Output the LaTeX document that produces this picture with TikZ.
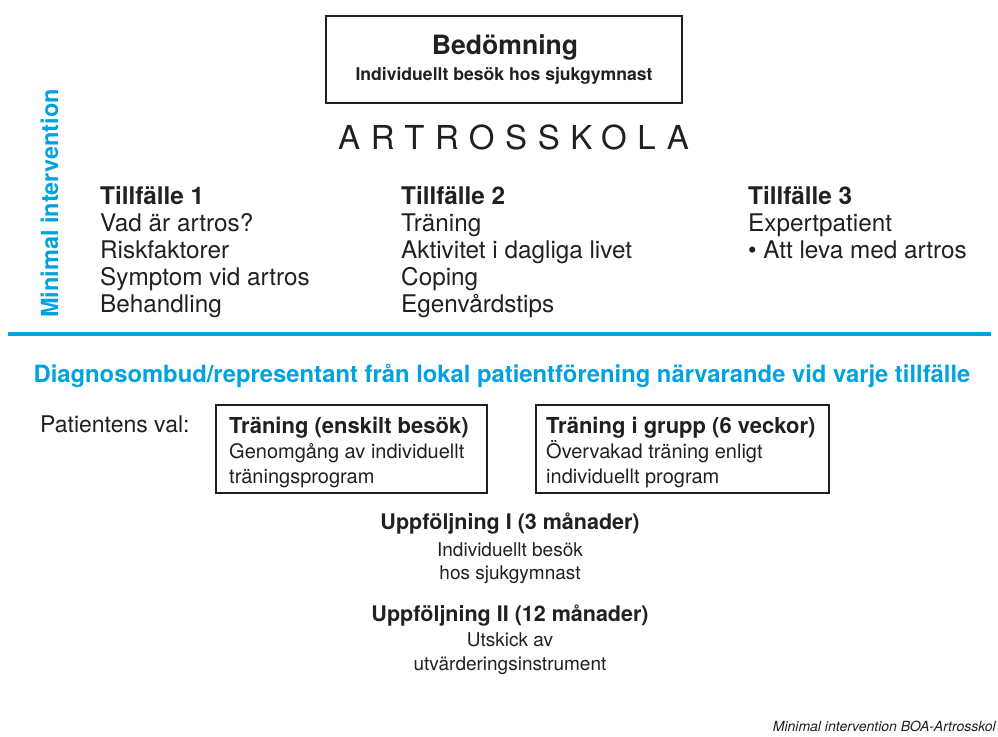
\documentclass[tikz,border=0pt]{standalone}
\usepackage{fontspec}
\setmainfont{TeX Gyre Heros}
\newfontfamily\spacedfont[LetterSpace=32]{TeX Gyre Heros}
\definecolor{boablue}{RGB}{0,163,224}
\definecolor{ink}{RGB}{35,31,32}
\tikzset{
  txt/.style={inner sep=0pt, anchor=base west, text=ink},
  ctxt/.style={inner sep=0pt, anchor=base, text=ink},
  frame/.style={draw=ink, line width=2.4pt},
  f24/.style={font=\fontsize{24.3}{28}\selectfont},
  f24b/.style={font=\fontsize{24.3}{28}\selectfont\bfseries},
  fbox/.style={font=\fontsize{20}{23}\selectfont},
  fboxb/.style={font=\fontsize{22}{25}\selectfont\bfseries},
  f21/.style={font=\fontsize{19}{23}\selectfont},
  f21b/.style={font=\fontsize{21.5}{25}\selectfont\bfseries},
}
\begin{document}
\begin{tikzpicture}[x=1pt,y=-1pt]
\useasboundingbox (0,0) rectangle (998,736);
% top box
\draw[frame] (326,16) rectangle (682,103);
\node[ctxt, font=\fontsize{26.6}{30}\selectfont\bfseries] (bed) at (505,54) {Bedömning};
\node[ctxt, font=\fontsize{17.6}{20}\selectfont\bfseries] (bedsub) at (504,80) {Individuellt besök hos sjukgymnast};
% title
\node[txt, font=\fontsize{33}{38}\spacedfont] (title) at (338,149) {ARTROSSKOLA};
% vertical label
\node[inner sep=0pt, anchor=base west, rotate=90, text=boablue, font=\fontsize{23.5}{27}\selectfont\bfseries] (minint) at (58,318) {Minimal intervention};
% column 1
\node[txt,f24b] (t1) at (100,204) {Tillfälle 1};
\node[txt,f24] (t1a) at (100,231) {Vad är artros?};
\node[txt,f24] (t1b) at (100,258) {Riskfaktorer};
\node[txt,f24] (t1c) at (100,285) {Symptom vid artros};
\node[txt,f24] (t1d) at (100,312) {Behandling};
% column 2
\node[txt,f24b] (t2) at (401,204) {Tillfälle 2};
\node[txt,f24] (t2a) at (401,231) {Träning};
\node[txt,f24] (t2b) at (401,258) {Aktivitet i dagliga livet};
\node[txt,f24] (t2c) at (401,285) {Coping};
\node[txt,f24] (t2d) at (401,312) {Egenvårdstips};
% column 3
\node[txt,f24b] (t3) at (748,204) {Tillfälle 3};
\node[txt,f24] (t3a) at (748,231) {Expertpatient};
\node[txt,f24] (t3b) at (748,258) {• Att leva med artros};
% blue rule
\coordinate (rl) at (8,334);
\coordinate (rr) at (991,334);
\draw[boablue, line width=3.6pt] (rl) -- (rr);
\node[inner sep=0pt, anchor=base, text=boablue, font=\fontsize{23.8}{27}\selectfont\bfseries] (diag) at (502,382) {Diagnosombud/representant från lokal patientförening närvarande vid varje tillfälle};
% choice
\node[txt, font=\fontsize{23}{27}\selectfont] (val) at (40,432) {Patientens val:};
\draw[frame] (216,405) rectangle (487,493);
\node[txt,fboxb] (b1t) at (229,433) {Träning (enskilt besök)};
\node[txt,fbox] (b1a) at (229,458) {Genomgång av individuellt};
\node[txt,fbox] (b1b) at (229,483) {träningsprogram};
\draw[frame] (536,405) rectangle (829,493);
\node[txt,fboxb] (b2t) at (546,433) {Träning i grupp (6 veckor)};
\node[txt,fbox] (b2a) at (546,458) {Övervakad träning enligt};
\node[txt,fbox] (b2b) at (546,483) {individuellt program};
% follow ups
\node[ctxt,f21b] (u1) at (510,529) {Uppföljning I (3 månader)};
\node[ctxt,f21] (u1a) at (510,556) {Individuellt besök};
\node[ctxt,f21] (u1b) at (510,579) {hos sjukgymnast};
\node[ctxt,f21b] (u2) at (510,621) {Uppföljning II (12 månader)};
\node[ctxt,f21] (u2a) at (510,646) {Utskick av};
\node[ctxt,f21] (u2b) at (510,670) {utvärderingsinstrument};
% footer
\node[inner sep=0pt, anchor=base east, text=ink, font=\fontsize{14}{16}\selectfont\itshape] (foot) at (996,731) {Minimal intervention BOA-Artrosskol};
\end{tikzpicture}
\end{document}
